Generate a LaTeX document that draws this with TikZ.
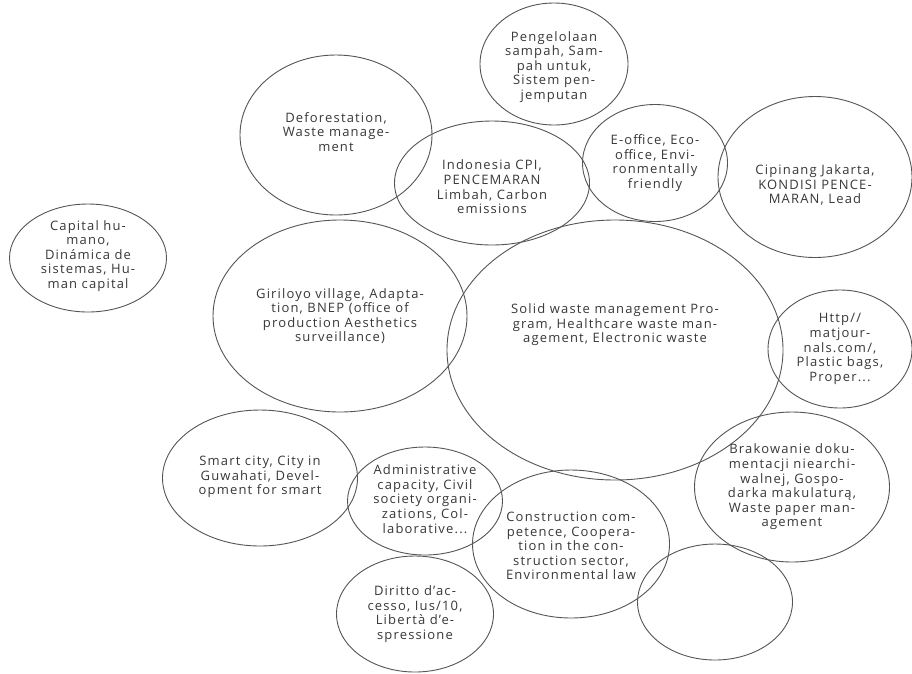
\documentclass[tikz,border=0pt]{standalone}
\usepackage{fontspec}
\setmainfont[LetterSpace=9]{Open Sans}
\usetikzlibrary{shapes.geometric}
\definecolor{ringgray}{HTML}{555555}
\definecolor{textgray}{HTML}{383838}
\begin{document}
\begin{tikzpicture}[x=1pt,y=-1pt]
		\tikzstyle{every node}+=[inner sep=0pt]
		\tikzstyle{bubble}=[draw=ringgray, line width=0.9pt, ellipse]
		\tikzstyle{label}=[text=textgray, align=center, font=\fontsize{13}{14.6}\selectfont]
		\useasboundingbox (0,0) rectangle (912,673);
		\fill [white] (0,0) rectangle (912,673);
		\node [bubble, minimum width=148, minimum height=122] (sampah) at (554,64) {};
		\node [label] (sampaht) at (554,67) {Pengelolaan\\sampah, Sam-\\pah untuk,\\Sistem pen-\\jemputan};
		\node [bubble, minimum width=192, minimum height=160] (forest) at (336,135) {};
		\node [label] (forestt) at (336,132) {Deforestation,\\Waste manage-\\ment};
		\node [bubble, minimum width=195, minimum height=124] (cpi) at (492,183) {};
		\node [label] (cpit) at (492,187) {Indonesia CPI,\\PENCEMARAN\\Limbah, Carbon\\emissions};
		\node [bubble, minimum width=145, minimum height=117] (office) at (655,163) {};
		\node [label] (officet) at (655,163) {E-office, Eco-\\office, Envi-\\ronmentally\\friendly};
		\node [bubble, minimum width=194, minimum height=161] (jakarta) at (815,177) {};
		\node [label] (jakartat) at (815,185) {Cipinang Jakarta,\\KONDISI PENCE-\\MARAN, Lead};
		\node [bubble, minimum width=157, minimum height=108] (humano) at (88,258) {};
		\node [label] (humanot) at (88,256) {Capital hu-\\mano,\\Dinámica de\\sistemas, Hu-\\man capital};
		\node [bubble, minimum width=254, minimum height=192] (giriloyo) at (340,316) {};
		\node [label] (giriloyot) at (340,316) {Giriloyo village, Adapta-\\tion, BNEP (office of\\production Aesthetics\\surveillance)};
		\node [bubble, minimum width=336, minimum height=260] (solid) at (615,350) {};
		\node [label] (solidt) at (615,325) {Solid waste management Pro-\\gram, Healthcare waste man-\\agement, Electronic waste};
		\node [bubble, minimum width=144, minimum height=118] (plastic) at (840,349) {};
		\node [label] (plastict) at (840,349) {Http//\\matjour-\\nals.com/,\\Plastic bags,\\Proper...};
		\node [bubble, minimum width=195, minimum height=150] (paper) at (792,487) {};
		\node [label] (papert) at (792,487) {Brakowanie doku-\\mentacji niearchi-\\walnej, Gospo-\\darka makulaturą,\\Waste paper man-\\agement};
		\node [bubble, minimum width=155, minimum height=116] (blank) at (715,602) {};
		\node [bubble, minimum width=195, minimum height=136] (smart) at (260,478) {};
		\node [label] (smartt) at (260,477) {Smart city, City in\\Guwahati, Devel-\\opment for smart};
		\node [bubble, minimum width=155, minimum height=108] (admin) at (425,501) {};
		\node [label] (admint) at (425,499) {Administrative\\capacity, Civil\\society organi-\\zations, Col-\\laborative...};
		\node [bubble, minimum width=197, minimum height=148] (build) at (571,544) {};
		\node [label] (buildt) at (571,546) {Construction com-\\petence, Coopera-\\tion in the con-\\struction sector,\\Environmental law};
		\node [bubble, minimum width=157, minimum height=116] (access) at (415,614) {};
		\node [label] (accesst) at (415,614) {Diritto d'ac-\\cesso, Ius/10,\\Libertà d'e-\\spressione};
	\end{tikzpicture}
\end{document}
